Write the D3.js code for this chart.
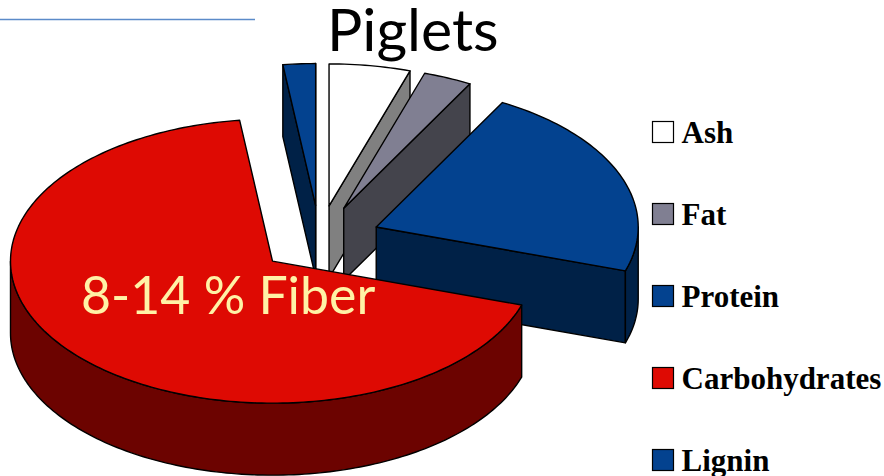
<!DOCTYPE html>
<html>
<head>
<meta charset="utf-8">
<script src="https://cdn.jsdelivr.net/npm/d3@7"></script>
<style>
  html, body { margin: 0; background: #fff; overflow: hidden; }
</style>
</head>
<body>
<div class="chart"></div>
<script>
const categories = ["Ash", "Fat", "Protein", "Carbohydrates", "Lignin"];
const shares = [5, 3, 22, 68, 2];   // percent of the total
const topColors = ["#ffffff", "#807f92", "#03428f", "#de0a03", "#03428f"];
const sideColors = ["#808080", "#44444c", "#002147", "#6c0300", "#002147"];
const drawOrder = ["Lignin", "Ash", "Fat", "Protein", "Carbohydrates"];

const width = 884, height = 476;
const cx = 319.5, cy = 239.5;   // pie centre before the slices are pulled out
const rx = 262, ry = 142;       // radii of the tilted ellipse
const depth = 72;               // thickness of the pie
const pullX = 61, pullY = 34;   // how far each slice is pulled out

const svg = d3.select(".chart")
  .append("svg")
  .attr("width", width)
  .attr("height", height)
  .style("display", "block");

// thin rule at the top left
svg.append("line")
  .attr("x1", 0).attr("x2", 255)
  .attr("y1", 19.5).attr("y2", 19.5)
  .attr("stroke", "#5b8bc9")
  .attr("stroke-width", 1.6);

const pie = d3.pie().sort(null).value((d, i) => shares[i]);
const slices = pie(categories);

// angle is measured clockwise from 12 o'clock, as d3.pie gives it
const project = (a, ox, oy, dz) => [
  ox + rx * Math.sin(a),
  oy - ry * Math.cos(a) + dz
];
const line = d3.line();

const rim = (a0, a1, ox, oy, dz) => {
  const n = Math.max(2, Math.ceil((a1 - a0) / 0.02));
  return d3.range(n + 1).map(i => project(a0 + (a1 - a0) * i / n, ox, oy, dz));
};

const drawSlice = (s) => {
  const i = categories.indexOf(s.data);
  const mid = (s.startAngle + s.endAngle) / 2;
  const ox = cx + pullX * Math.sin(mid);
  const oy = cy - pullY * Math.cos(mid);
  const g = svg.append("g")
    .attr("stroke", "#000")
    .attr("stroke-width", 1.4)
    .attr("stroke-linejoin", "round");

  // cut faces that turn towards the viewer
  const cuts = [];
  if (Math.cos(s.startAngle) > 0 && Math.sin(s.startAngle) < 0) cuts.push(s.startAngle);
  if (Math.sin(s.endAngle) > 0) cuts.push(s.endAngle);
  if (s.data === "Carbohydrates") cuts.length = 0;
  cuts.forEach(a => {
    g.append("path")
      .attr("d", line([
        [ox, oy],
        project(a, ox, oy, 0),
        project(a, ox, oy, depth),
        [ox, oy + depth]
      ]) + "Z")
      .attr("fill", sideColors[i]);
  });

  // outer wall, only the part on the near side of the ellipse
  const a0 = Math.max(s.startAngle, Math.PI / 2);
  const a1 = Math.min(s.endAngle, Math.PI * 1.5);
  if (a1 > a0) {
    const wall = rim(a0, a1, ox, oy, 0).concat(rim(a0, a1, ox, oy, depth).reverse());
    g.append("path")
      .attr("d", line(wall) + "Z")
      .attr("fill", sideColors[i]);
  }

  // top face
  const top = [[ox, oy]].concat(rim(s.startAngle, s.endAngle, ox, oy, 0));
  g.append("path")
    .attr("d", line(top) + "Z")
    .attr("fill", topColors[i]);
};

drawOrder.forEach(name => drawSlice(slices[categories.indexOf(name)]));

svg.append("text")
  .attr("x", 327)
  .attr("y", 50.5)
  .attr("font-family", "Lato, 'Open Sans', sans-serif")
  .attr("font-size", 59)
  .attr("fill", "#000")
  .text("Piglets");

svg.append("text")
  .attr("x", 81)
  .attr("y", 314)
  .attr("font-family", "Lato, 'Open Sans', sans-serif")
  .attr("font-size", 51.8)
  .attr("fill", "#fff2a6")
  .text("8-14 % Fiber");

// legend down the right side
const legendY = d3.scalePoint().domain(categories).range([132, 460]);
const legend = svg.selectAll(".legend")
  .data(categories)
  .join("g")
  .attr("class", "legend")
  .attr("transform", d => `translate(652,${legendY(d)})`);

legend.append("rect")
  .attr("x", 0.5)
  .attr("y", -10.5)
  .attr("width", 21)
  .attr("height", 21)
  .attr("stroke", "#000")
  .attr("stroke-width", 1.2)
  .attr("fill", (d, i) => topColors[i]);

legend.append("text")
  .attr("x", 29.5)
  .attr("y", 11)
  .attr("font-family", "'Liberation Serif', serif")
  .attr("font-weight", "bold")
  .attr("font-size", 31)
  .attr("fill", "#000")
  .text(d => d);
</script>
</body>
</html>
